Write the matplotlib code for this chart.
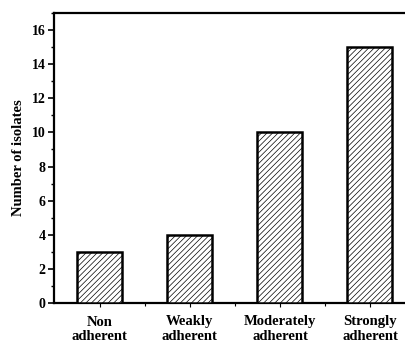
import matplotlib
matplotlib.use('Agg')
import matplotlib.pyplot as plt
from matplotlib.ticker import MultipleLocator, FixedLocator

# data
categories = ['Non\nadherent', 'Weakly\nadherent', 'Moderately\nadherent', 'Strongly\nadherent']
counts = [3, 4, 10, 15]

plt.rcParams['font.family'] = 'Liberation Serif'
plt.rcParams['font.weight'] = 'bold'
plt.rcParams['hatch.color'] = '#8a8a8a'
plt.rcParams['hatch.linewidth'] = 0.5

fig = plt.figure(figsize=(4.05, 3.44), dpi=100)
ax = fig.add_axes([54 / 405, 41 / 344, 370 / 405, 290 / 344])

x = range(len(categories))
ax.bar(x, counts, width=0.5, color='white', edgecolor='black',
       linewidth=1.8, hatch='//////', zorder=3)

ax.set_xlim(-0.51, 3.6)
ax.set_ylim(0, 17)
ax.set_xticks(list(x))
ax.set_xticklabels(categories, fontsize=10.5, fontweight='bold', linespacing=1.15)
ax.xaxis.set_minor_locator(FixedLocator([0.5, 1.5, 2.5]))
ax.yaxis.set_major_locator(MultipleLocator(2))
ax.yaxis.set_minor_locator(MultipleLocator(1))
ax.tick_params(axis='y', which='major', direction='out', length=4, width=1.2,
               labelsize=10, pad=2)
ax.tick_params(axis='y', which='minor', direction='out', length=2.5, width=1)
ax.tick_params(axis='x', which='major', direction='out', length=3, width=0.8, pad=6)
ax.tick_params(axis='x', which='minor', direction='out', length=2, width=0.8)
for lbl in ax.get_yticklabels():
    lbl.set_fontweight('bold')

ax.set_ylabel('Number of isolates', fontsize=10.5, fontweight='bold', labelpad=5)

for side in ['left', 'bottom', 'top']:
    ax.spines[side].set_linewidth(1.6)
ax.spines['right'].set_visible(False)

fig.savefig('out.png', dpi=100)
